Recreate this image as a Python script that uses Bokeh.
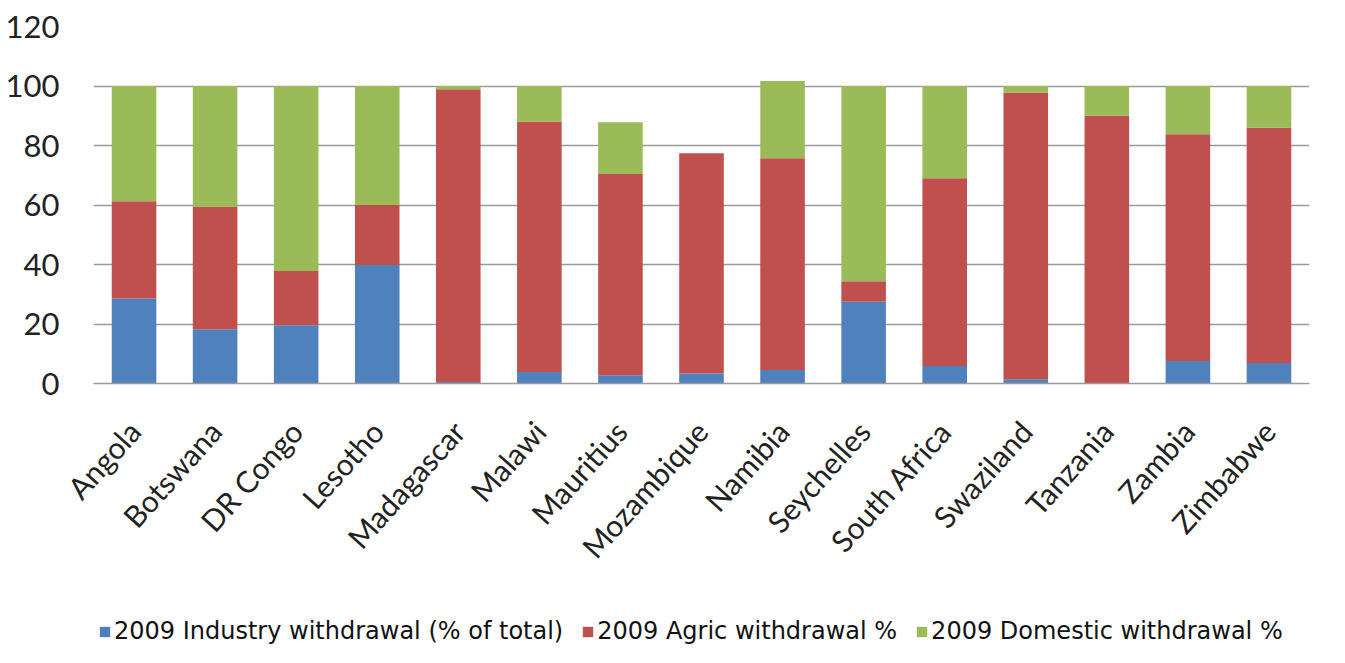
from bokeh.plotting import figure
from bokeh.models import ColumnDataSource, Range1d, FactorRange, Legend, LegendItem, FixedTicker
from bokeh.layouts import column
from bokeh.embed import file_html
from bokeh.resources import INLINE

countries = ["Angola", "Botswana", "DR Congo", "Lesotho", "Madagascar", "Malawi",
             "Mauritius", "Mozambique", "Namibia", "Seychelles", "South Africa",
             "Swaziland", "Tanzania", "Zambia", "Zimbabwe"]
industry = [28.6, 18.2, 19.6, 39.8, 0.5, 3.9, 2.8, 3.4, 4.5, 27.5, 5.9, 1.4, 0.0, 7.6, 6.9]
agric = [32.7, 41.2, 18.2, 20.2, 98.4, 84.1, 67.6, 74.0, 71.2, 6.9, 63.1, 96.4, 90.0, 76.2, 79.1]
domestic = [38.7, 40.6, 62.2, 40.0, 1.1, 12.0, 17.4, 0.0, 26.0, 65.6, 31.0, 2.2, 10.0, 16.2, 14.0]
series_labels = ["2009 Industry withdrawal (% of total)", "2009 Agric withdrawal %",
                 "2009 Domestic withdrawal %"]
y_ticks = [0, 20, 40, 60, 80, 100, 120]

colors = ["#4F81BD", "#C0504D", "#9BBB59"]
keys = ["industry", "agric", "domestic"]

source = ColumnDataSource(dict(countries=countries, industry=industry,
                               agric=agric, domestic=domestic))

p = figure(x_range=FactorRange(*countries, range_padding=0), y_range=Range1d(0, 120),
           width=1329, height=600, output_backend="svg", toolbar_location=None,
           min_border_left=93, min_border_right=20, min_border_top=26,
           min_border_bottom=217, background_fill_color="white",
           border_fill_color="white", outline_line_color=None)

p.vbar_stack(keys, x="countries", width=0.55, color=colors,
             line_color=None, source=source)

p.xgrid.grid_line_color = None
p.ygrid.grid_line_color = "#9a9a9a"
p.ygrid.grid_line_width = 1.5
p.yaxis.ticker = FixedTicker(ticks=y_ticks)
p.yaxis.axis_line_color = None
p.yaxis.major_tick_line_color = None
p.yaxis.minor_tick_line_color = None
p.yaxis.major_label_standoff = 28
p.yaxis.major_label_text_font = "Lato"
p.yaxis.major_label_text_font_size = "31px"
p.yaxis.major_label_text_color = "#222222"

p.xaxis.axis_line_color = "#9a9a9a"
p.xaxis.axis_line_width = 1.5
p.xaxis.major_tick_line_color = None
p.xaxis.minor_tick_line_color = None
p.xaxis.major_label_orientation = 0.84
p.xaxis.major_label_standoff = 36
p.xaxis.major_label_text_font = "Lato"
p.xaxis.major_label_text_font_size = "30px"
p.xaxis.major_label_text_color = "#222222"

# legend strip below the chart (zero-width proxy bars carry the legend colours)
lg = figure(width=1329, height=47, output_backend="svg", toolbar_location=None,
            min_border=0, x_range=p.x_range, y_range=Range1d(0, 120),
            background_fill_color="white", border_fill_color="white",
            outline_line_color=None)
lg.axis.visible = False
lg.grid.grid_line_color = None
proxies = lg.vbar_stack(keys, x="countries", width=0, color=colors,
                        line_color=None, source=source)
legend = Legend(items=[LegendItem(label=series_labels[i], renderers=[proxies[i]])
                       for i in range(3)],
                orientation="horizontal", location=(5, 2),
                glyph_width=13, glyph_height=13, label_standoff=3, spacing=18,
                padding=0, margin=0, border_line_color=None,
                background_fill_alpha=0,
                label_text_font="DejaVu Sans", label_text_font_size="24px",
                label_text_color="#111111")
lg.add_layout(legend, "center")

open("out.html", "w").write(file_html(column(p, lg, spacing=0), INLINE))
